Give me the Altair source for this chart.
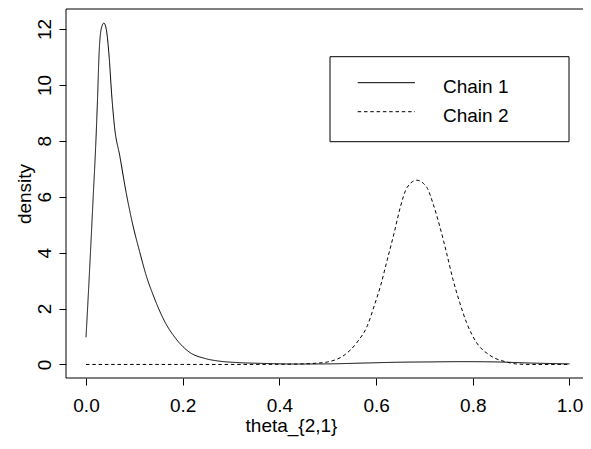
import altair as alt
import pandas as pd

# ---- data ----
chains = ["Chain 1", "Chain 2"]

x1 = [0.0, 0.0048, 0.010, 0.015, 0.020, 0.024, 0.027, 0.032, 0.037, 0.042, 0.048,
      0.053, 0.059, 0.070, 0.083, 0.097, 0.111, 0.124, 0.141, 0.162, 0.186, 0.213,
      0.247, 0.275, 0.31, 0.36, 0.44, 0.50, 0.575, 0.65, 0.711, 0.78, 0.848, 0.92, 1.0]
d1 = [0.97, 2.5, 4.27, 6.04, 7.8, 9.57, 11.1, 12.04, 12.21, 11.98, 10.98,
      9.68, 8.5, 7.45, 6.15, 4.98, 4.03, 3.21, 2.39, 1.56, 0.92, 0.45,
      0.21, 0.12, 0.07, 0.04, 0.015, 0.02, 0.05, 0.08, 0.09, 0.10, 0.09, 0.05, 0.02]

x2 = [0.0, 0.1, 0.2, 0.3, 0.4, 0.45, 0.48, 0.50, 0.534, 0.561, 0.582, 0.596, 0.609,
      0.623, 0.637, 0.650, 0.664, 0.684, 0.705, 0.718, 0.732, 0.746, 0.759, 0.773,
      0.787, 0.807, 0.835, 0.869, 0.889, 0.92, 1.0]
d2 = [0.0, 0.0, 0.0, 0.0, 0.005, 0.02, 0.05, 0.09, 0.33, 0.80, 1.39, 2.09, 2.80,
      3.74, 4.68, 5.62, 6.33, 6.59, 6.33, 5.74, 4.92, 3.97, 3.04, 2.21,
      1.50, 0.80, 0.33, 0.09, 0.02, 0.0, 0.0]

x_ticks = [0.0, 0.2, 0.4, 0.6, 0.8, 1.0]
y_ticks = [0, 2, 4, 6, 8, 10, 12]

df = pd.DataFrame({
    "x": x1 + x2,
    "density": d1 + d2,
    "chain": [chains[0]] * len(x1) + [chains[1]] * len(x2),
})

FONT = "Liberation Sans"
W, H = 517, 369
PX_PER_UNIT = 483.5
DASH = [3.5, 2.8]

xscale = alt.Scale(domain=[-20 / PX_PER_UNIT, -20 / PX_PER_UNIT + W / PX_PER_UNIT],
                   nice=False, zero=False)
yscale = alt.Scale(domain=[-0.485, 12.715], nice=False, zero=False)

lines = alt.Chart(df).mark_line(color="black", strokeWidth=1, interpolate="monotone", clip=True).encode(
    x=alt.X("x:Q", scale=xscale, axis=alt.Axis(
        values=x_ticks, format=".1f", domain=False, grid=False, tickSize=7,
        tickColor="black", labelColor="black", labelFont=FONT, labelFontSize=19,
        labelPadding=26, labelBaseline="alphabetic", labelFlush=False,
        title="theta_{2,1}", titleFont=FONT, titleFontSize=19, titleFontWeight="normal",
        titleColor="black", titleX=225, titleY=53, titleBaseline="alphabetic",
        titleAlign="center")),
    y=alt.Y("density:Q", scale=yscale, axis=alt.Axis(
        values=y_ticks, format="d", domain=False, grid=False, tickSize=7,
        tickColor="black", labelColor="black", labelFont=FONT, labelFontSize=19,
        labelAngle=270, labelAlign="center", labelBaseline="alphabetic",
        labelPadding=9, labelFlush=False,
        title="density", titleFont=FONT, titleFontSize=19, titleFontWeight="normal",
        titleColor="black", titleAngle=270, titleX=-36, titleY=H / 2,
        titleBaseline="alphabetic", titleAlign="center")),
    strokeDash=alt.StrokeDash("chain:N", scale=alt.Scale(domain=chains, range=[[1, 0], DASH]),
                              legend=None),
    detail="chain:N",
)

# plot frame (left, top, bottom)
frame_top = alt.Chart().mark_rule(color="black", strokeWidth=1).encode(
    x=alt.value(0), x2=alt.value(W), y=alt.value(0))
frame_bottom = alt.Chart().mark_rule(color="black", strokeWidth=1).encode(
    x=alt.value(0), x2=alt.value(W), y=alt.value(H))
frame_left = alt.Chart().mark_rule(color="black", strokeWidth=1).encode(
    x=alt.value(0), y=alt.value(0), y2=alt.value(H))

# legend box
leg_box = alt.Chart().mark_rect(fill="white", stroke="black", strokeWidth=1).encode(
    x=alt.value(264), x2=alt.value(503), y=alt.value(47.7), y2=alt.value(132.7))
leg_l1 = alt.Chart().mark_rule(color="black", strokeWidth=1).encode(
    x=alt.value(291.7), x2=alt.value(349), y=alt.value(73.7))
leg_l2 = alt.Chart().mark_rule(color="black", strokeWidth=1, strokeDash=DASH).encode(
    x=alt.value(291.7), x2=alt.value(349), y=alt.value(102.7))
leg_t1 = alt.Chart().mark_text(text=chains[0], font=FONT, fontSize=19, align="left",
                               baseline="alphabetic", color="black").encode(
    x=alt.value(377), y=alt.value(84.3))
leg_t2 = alt.Chart().mark_text(text=chains[1], font=FONT, fontSize=19, align="left",
                               baseline="alphabetic", color="black").encode(
    x=alt.value(377), y=alt.value(112.7))

chart = alt.layer(
    lines, frame_top, frame_bottom, frame_left,
    leg_box, leg_l1, leg_l2, leg_t1, leg_t2,
).properties(
    width=W, height=H,
    autosize=alt.AutoSizeParams(type="none"),
    padding={"left": 58, "top": 1, "right": 0, "bottom": 59},
    background="white",
).configure_view(stroke=None)

chart.save("out.html", embed_options={"renderer": "svg", "actions": False})
